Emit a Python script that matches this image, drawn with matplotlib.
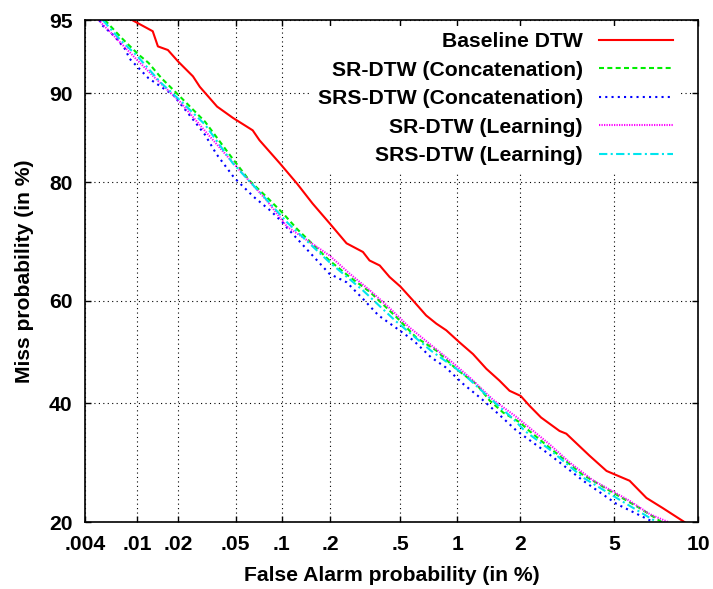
import numpy as np
import matplotlib
matplotlib.use("Agg")
import matplotlib.pyplot as plt
from statistics import NormalDist

# DET curves: false alarm (%) vs miss (%)
base_fa = [0.0092, 0.0131, 0.0143, 0.0169, 0.020, 0.0255, 0.0285, 0.0375, 0.048, 0.065,
           0.072, 0.0975, 0.125, 0.156, 0.198, 0.249, 0.31, 0.338, 0.386, 0.438, 0.503,
           0.587, 0.69, 0.78, 0.877, 1.025, 1.195, 1.387, 1.60, 1.786, 2.01, 2.205, 2.48,
           2.985, 3.19, 3.98, 4.66, 5.72, 6.61, 7.56, 9.0]
base_miss = [95, 94.4, 93.5, 93.27, 92.5, 91.4, 90.55, 88.8, 87.7, 86.4, 85.3, 82.5, 79.8,
             76.9, 73.8, 70.5, 69.0, 67.5, 66.6, 64.5, 62.7, 60.1, 57.2, 55.6, 54.3, 51.9,
             49.6, 46.7, 44.4, 42.4, 41.4, 39.5, 37.3, 34.8, 34.3, 30.4, 27.8, 26.2, 23.5,
             22.0, 20.0]

sr_cat_fa = [0.0057, 0.0077, 0.0102, 0.0122, 0.0152, 0.0213, 0.031, 0.046, 0.062, 0.080,
             0.102, 0.125, 0.197, 0.26, 0.34, 0.48, 0.61, 0.78, 0.99, 1.24, 1.44, 1.67,
             1.99, 2.2, 2.7, 3.7, 4.8, 6.2, 7.5]
sr_cat_miss = [95, 94.0, 93.0, 92.4, 91.25, 89.55, 87.3, 83.5, 80.2, 77.9, 75.4, 72.9, 67.5,
               64.5, 61.7, 56.8, 52.9, 50.3, 46.6, 43.7, 40.5, 38.2, 36.4, 34.8, 31.8, 27.3,
               24.6, 22.05, 20]

srs_cat_fa = [0.0052, 0.0054, 0.0068, 0.0082, 0.0088, 0.0122, 0.0185, 0.025, 0.031, 0.037,
              0.049, 0.066, 0.085, 0.101, 0.109, 0.197, 0.25, 0.31, 0.38, 0.47, 0.59, 0.73,
              0.87, 1.07, 1.3, 1.6, 1.93, 2.7, 3.75, 5.1, 7.0]
srs_cat_miss = [95, 94.75, 94.1, 93.3, 92.7, 91.25, 89.85, 87.7, 85.9, 83.7, 80.6, 77.9, 75.8,
                74.0, 73.0, 65.1, 63.5, 60.4, 57.2, 54.9, 52.3, 49.0, 47.0, 43.7, 41.0, 37.8,
                34.8, 30.6, 26.2, 22.6, 20]

sr_learn_fa = [0.0051, 0.0062, 0.0098, 0.0137, 0.0206, 0.0295, 0.048, 0.08, 0.108, 0.197,
               0.26, 0.34, 0.43, 0.565, 0.72, 0.92, 1.15, 1.49, 1.92, 2.7, 3.3, 4.1, 5.7,
               6.8, 7.9]
sr_learn_miss = [95, 94.4, 92.7, 91.25, 89.25, 86.7, 82.6, 77.4, 73.3, 68.4, 65.1, 62.0, 58.9,
                 54.8, 51.6, 48.3, 45.0, 40.7, 37.4, 32.4, 29.2, 26.3, 23.1, 21.1, 20]

srs_learn_fa = [0.0055, 0.0075, 0.010, 0.015, 0.021, 0.031, 0.048, 0.08, 0.109, 0.197, 0.31,
                0.47, 0.73, 1.07, 1.43, 1.85, 2.1, 2.7, 3.75, 5.1, 7.2]
srs_learn_miss = [95, 93.9, 92.9, 90.9, 89.3, 87.0, 82.5, 77.5, 73.9, 67.2, 62.0, 56.2, 50.3,
                  45.7, 41.1, 37.1, 34.8, 31.5, 26.7, 23.5, 20]

x_ticks = [0.004, 0.01, 0.02, 0.05, 0.1, 0.2, 0.5, 1, 2, 5, 10]
x_ticklabels = [".004", ".01", ".02", ".05", ".1", ".2", ".5", "1", "2", "5", "10"]
y_ticks = [20, 40, 60, 80, 90, 95]
y_ticklabels = ["20", "40", "60", "80", "90", "95"]

# normal deviate scale (percent in, z out)
nd = NormalDist()
_ppf = np.vectorize(nd.inv_cdf, otypes=[float])
_cdf = np.vectorize(nd.cdf, otypes=[float])


def fwd(v):
    v = np.clip(np.asarray(v, dtype=float) / 100.0, 1e-12, 1 - 1e-12)
    return _ppf(v)


def inv(z):
    return _cdf(np.asarray(z, dtype=float)) * 100.0


plt.rcParams['font.family'] = ['Liberation Sans', 'DejaVu Sans']
plt.rcParams['font.weight'] = 'bold'
fs = 15.2

fig = plt.figure(figsize=(7.13, 5.89), dpi=100)
ax = fig.add_axes([85 / 713, 1 - 522 / 589, (698 - 85) / 713, (522 - 20) / 589])
ax.set_xscale('function', functions=(fwd, inv))
ax.set_yscale('function', functions=(fwd, inv))

curves = [
    (base_fa, base_miss, "Baseline DTW", "#ff0000", "-"),
    (sr_cat_fa, sr_cat_miss, "SR-DTW (Concatenation)", "#00ee00", (0, (2.4, 1.6))),
    (srs_cat_fa, srs_cat_miss, "SRS-DTW (Concatenation)", "#0000ff", (0, (1.0, 2.0))),
    (sr_learn_fa, sr_learn_miss, "SR-DTW (Learning)", "#ff00ff", (0, (0.6, 0.6))),
    (srs_learn_fa, srs_learn_miss, "SRS-DTW (Learning)", "#00e5ee", (0, (4, 1.6, 1, 1.6))),
]
for fa, miss, lab, col, ls in curves:
    ax.plot(fa, miss, color=col, linestyle=ls, linewidth=1.5, label=lab)

ax.set_xlim(0.004, 10)
ax.set_ylim(20, 95)
ax.set_xticks(x_ticks)
ax.set_xticklabels(x_ticklabels)
ax.set_yticks(y_ticks)
ax.set_yticklabels(y_ticklabels)
ax.minorticks_off()
ax.grid(True, color='black', linestyle=(0, (1, 3)), linewidth=0.8)
ax.tick_params(direction='in', top=True, right=True, length=4, width=1,
               labelsize=fs, pad=9)
for s in ax.spines.values():
    s.set_linewidth(1.2)

ax.set_xlabel("False Alarm probability (in %)", fontsize=fs, fontweight='bold', labelpad=9)
ax.set_ylabel("Miss probability (in %)", fontsize=fs, fontweight='bold', labelpad=11)

leg = ax.legend(loc='upper right', bbox_to_anchor=(1 - 19 / 613, 1 - 6 / 502),
                markerfirst=False, fontsize=fs, handlelength=3.5,
                handletextpad=0.75, labelspacing=0.45, borderpad=0.3, borderaxespad=0,
                frameon=True, framealpha=1, facecolor='white', edgecolor='none',
                fancybox=False)

fig.savefig("out.png", dpi=100)
